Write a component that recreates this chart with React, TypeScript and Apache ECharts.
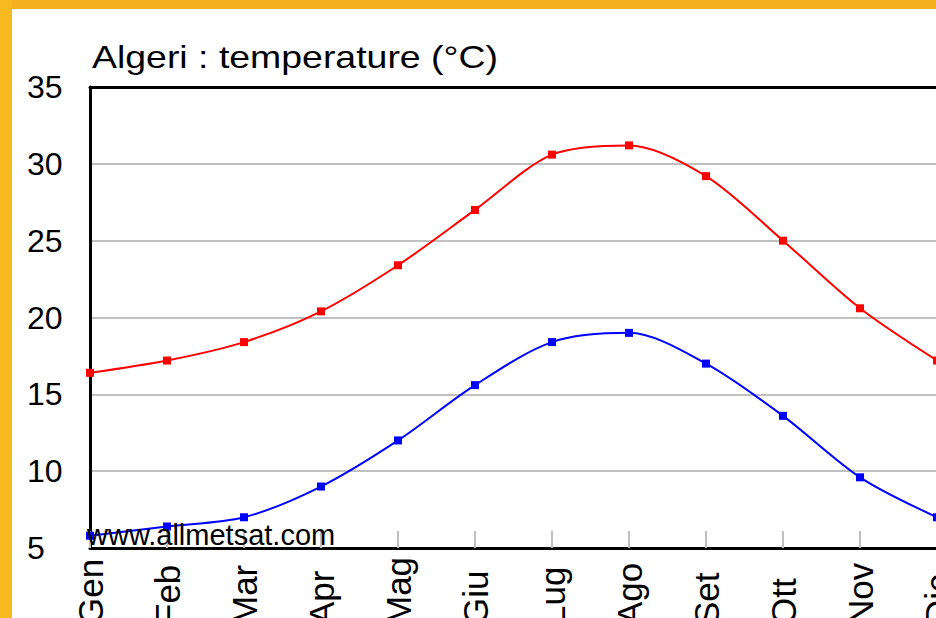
import React, { useEffect, useRef } from "react";
import * as echarts from "echarts";

const months = ["Gen", "Feb", "Mar", "Apr", "Mag", "Giu", "Lug", "Ago", "Set", "Ott", "Nov", "Dic"];
const maxTemps = [16.4, 17.2, 18.4, 20.4, 23.4, 27.0, 30.6, 31.2, 29.2, 25.0, 20.6, 17.2];
const minTemps = [5.8, 6.4, 7.0, 9.0, 12.0, 15.6, 18.4, 19.0, 17.0, 13.6, 9.6, 7.0];
const titleText = "Algeri : temperature (°C)";
const watermarkText = "www.allmetsat.com";

const FONT = "'Liberation Sans', Arial, sans-serif";

export default function App() {
  const ref = useRef<HTMLDivElement>(null);
  useEffect(() => {
    if (!ref.current) return;
    const chart = echarts.init(ref.current, null, { renderer: "svg" });
    chart.setOption({
      animation: false,
      backgroundColor: "#ffffff",
      grid: { left: 90, top: 87, width: 847, height: 461, containLabel: false, outerBoundsMode: "none" },
      graphic: [
        { type: "rect", left: 0, top: 0, shape: { width: 936, height: 9 }, style: { fill: "#F4B01F" }, z: 100 },
        { type: "rect", left: 0, top: 0, shape: { width: 12, height: 618 }, style: { fill: "#F6B920" }, z: 100 },
        {
          type: "text",
          x: 92,
          y: 57,
          scaleX: 1.17,
          z: 100,
          style: { text: titleText, fontSize: 32, fontFamily: FONT, fill: "#000", textVerticalAlign: "middle", textAlign: "left" },
        },
        {
          type: "text",
          x: 87,
          y: 535,
          z: 100,
          style: { text: watermarkText, fontSize: 29, fontFamily: FONT, fill: "#000", textVerticalAlign: "middle", textAlign: "left" },
        },
      ],
      xAxis: [
        {
          type: "category",
          data: months,
          boundaryGap: false,
          position: "bottom",
          axisLine: { lineStyle: { color: "#000", width: 3 } },
          axisTick: { show: true, inside: true, length: 17, lineStyle: { color: "#c0c0c0", width: 2 } },
          axisLabel: {
            rotate: 90,
            align: "left",
            verticalAlign: "middle",
            margin: 77,
            fontSize: 35,
            fontFamily: FONT,
            color: "#000",
            interval: 0,
          },
          splitLine: { show: false },
        },
        {
          type: "category",
          data: months,
          boundaryGap: false,
          position: "top",
          axisLine: { lineStyle: { color: "#000", width: 3 } },
          axisTick: { show: false },
          axisLabel: { show: false },
          splitLine: { show: false },
        },
      ],
      yAxis: {
        type: "value",
        min: 5,
        max: 35,
        interval: 5,
        axisLine: { show: true, lineStyle: { color: "#000", width: 3 } },
        axisTick: { show: false },
        axisLabel: { align: "left", margin: 63, fontSize: 32, fontFamily: FONT, color: "#000" },
        splitLine: { show: true, lineStyle: { color: "#c0c0c0", width: 2 } },
      },
      series: [
        {
          name: "max",
          type: "line",
          data: maxTemps,
          smooth: 0.3,
          symbol: "rect",
          symbolSize: 8,
          clip: false,
          lineStyle: { color: "#ff0000", width: 2 },
          itemStyle: { color: "#ff0000" },
        },
        {
          name: "min",
          type: "line",
          data: minTemps,
          smooth: 0.3,
          symbol: "rect",
          symbolSize: 8,
          clip: false,
          lineStyle: { color: "#0000ff", width: 2 },
          itemStyle: { color: "#0000ff" },
        },
      ],
    });
    return () => chart.dispose();
  }, []);
  return <div ref={ref} style={{ position: "fixed", left: 0, top: 0, width: 936, height: 618 }} />;
}
